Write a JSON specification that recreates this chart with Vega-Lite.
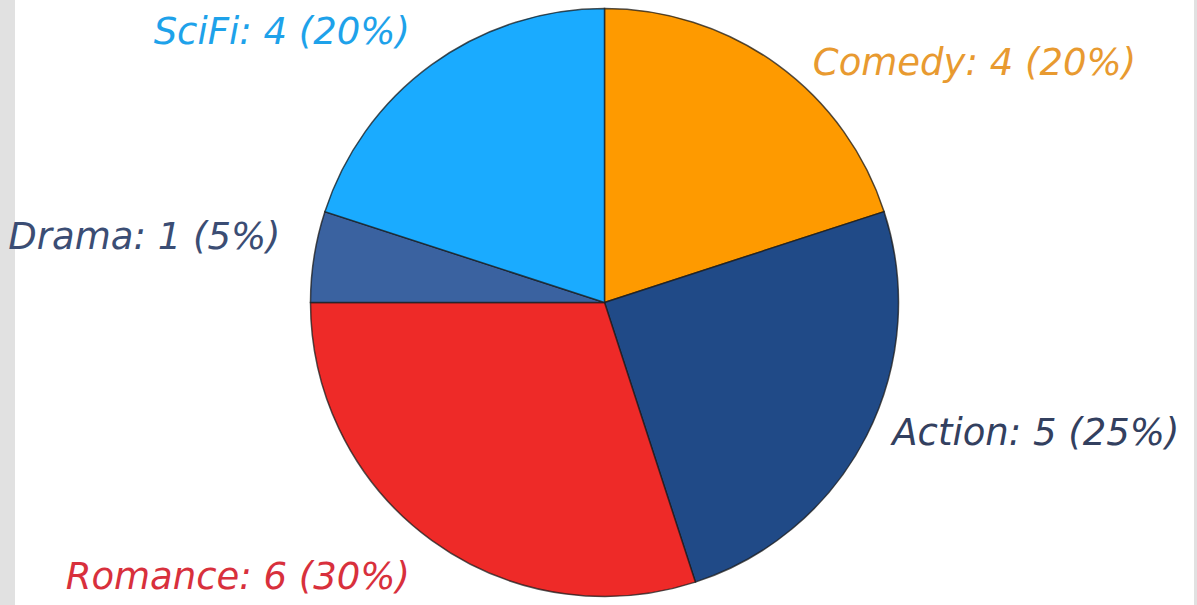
{
  "$schema": "https://vega.github.io/schema/vega-lite/v6.json",
  "width": 1179,
  "height": 605,
  "autosize": {"type": "none"},
  "padding": {"left": 15, "right": 3, "top": 0, "bottom": 0},
  "background": "#e1e1e1",
  "view": {"fill": "white", "stroke": null},
  "data": {
    "values": [
      {"genre": "Comedy", "count": 4, "label": "Comedy: 4 (20%)"},
      {"genre": "Action", "count": 5, "label": "Action: 5 (25%)"},
      {"genre": "Romance", "count": 6, "label": "Romance: 6 (30%)"},
      {"genre": "Drama", "count": 1, "label": "Drama: 1 (5%)"},
      {"genre": "SciFi", "count": 4, "label": "SciFi: 4 (20%)"}
    ]
  },
  "transform": [{"window": [{"op": "row_number", "as": "rank"}]}],
  "encoding": {
    "theta": {"field": "count", "type": "quantitative", "stack": true},
    "order": {"field": "rank", "type": "quantitative", "sort": "ascending"},
    "color": {
      "field": "genre",
      "type": "nominal",
      "scale": {
        "domain": ["Comedy", "Action", "Romance", "Drama", "SciFi"],
        "range": ["#fe9a00", "#204a87", "#ee2a28", "#3a62a0", "#1aabff"]
      },
      "legend": null
    }
  },
  "layer": [
    {
      "mark": {"type": "arc", "outerRadius": 294, "stroke": "#1a1a1a", "strokeWidth": 1.5, "strokeOpacity": 0.75}
    },
    {
      "mark": {"type": "text", "radius": 331, "align": "right", "baseline": "middle", "dy": -2, "font": "DejaVu Sans", "fontStyle": "italic", "fontSize": 37},
      "encoding": {
        "text": {"condition": {"test": "datum.genre === 'SciFi'", "field": "label"}, "value": ""},
        "fill": {"value": "#1ea2ea"}
      }
    },
    {
      "mark": {"type": "text", "radius": 300, "align": "left", "baseline": "middle", "dx": 32, "dy": 4, "font": "DejaVu Sans", "fontStyle": "italic", "fontSize": 37},
      "encoding": {
        "text": {"condition": {"test": "datum.genre === 'Comedy'", "field": "label"}, "value": ""},
        "fill": {"value": "#e89a30"}
      }
    },
    {
      "mark": {"type": "text", "radius": 323, "align": "left", "baseline": "middle", "dy": -15, "font": "DejaVu Sans", "fontStyle": "italic", "fontSize": 37},
      "encoding": {
        "text": {"condition": {"test": "datum.genre === 'Action'", "field": "label"}, "value": ""},
        "fill": {"value": "#33405f"}
      }
    },
    {
      "mark": {"type": "text", "radius": 331, "align": "right", "baseline": "middle", "dy": 8, "font": "DejaVu Sans", "fontStyle": "italic", "fontSize": 37},
      "encoding": {
        "text": {"condition": {"test": "datum.genre === 'Romance'", "field": "label"}, "value": ""},
        "fill": {"value": "#d8303c"}
      }
    },
    {
      "mark": {"type": "text", "radius": 328, "align": "right", "baseline": "middle", "dy": -13, "font": "DejaVu Sans", "fontStyle": "italic", "fontSize": 37},
      "encoding": {
        "text": {"condition": {"test": "datum.genre === 'Drama'", "field": "label"}, "value": ""},
        "fill": {"value": "#3b4d74"}
      }
    }
  ]
}
